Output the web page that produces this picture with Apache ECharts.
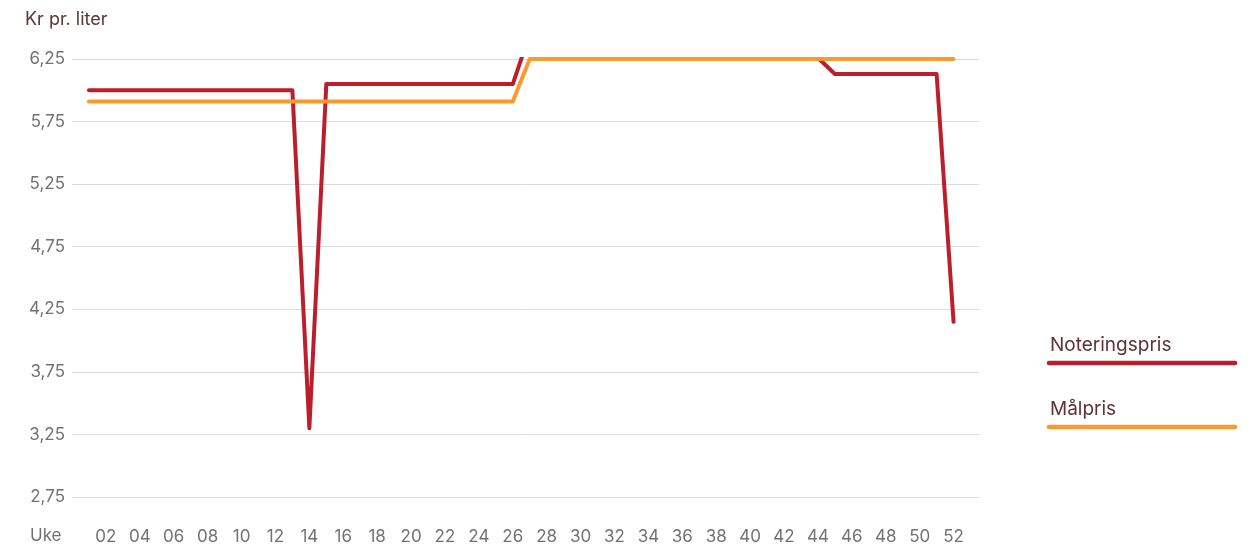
<!DOCTYPE html>
<html>
<head>
<meta charset="utf-8">
<script src="https://cdn.jsdelivr.net/npm/echarts@6/dist/echarts.min.js"></script>
<style>
  html, body { margin: 0; padding: 0; background: #fff; }
  #container { width: 1252px; height: 547px; }
</style>
</head>
<body>
<div id="container"></div>
<script>
// uker og priser (kr pr. liter)
var weeks = ['01','02','03','04','05','06','07','08','09','10','11','12','13',
             '14','15','16','17','18','19','20','21','22','23','24','25','26',
             '27','28','29','30','31','32','33','34','35','36','37','38','39',
             '40','41','42','43','44','45','46','47','48','49','50','51','52'];

var noteringspris = [6.00,6.00,6.00,6.00,6.00,6.00,6.00,6.00,6.00,6.00,6.00,6.00,6.00,
                     3.30,6.05,6.05,6.05,6.05,6.05,6.05,6.05,6.05,6.05,6.05,6.05,6.05,
                     6.45,6.25,6.25,6.25,6.25,6.25,6.25,6.25,6.25,6.25,6.25,6.25,6.25,
                     6.25,6.25,6.25,6.25,6.26,6.13,6.13,6.13,6.13,6.13,6.13,6.13,4.15];

var malpris = [5.91,5.91,5.91,5.91,5.91,5.91,5.91,5.91,5.91,5.91,5.91,5.91,5.91,
               5.91,5.91,5.91,5.91,5.91,5.91,5.91,5.91,5.91,5.91,5.91,5.91,5.91,
               6.25,6.25,6.25,6.25,6.25,6.25,6.25,6.25,6.25,6.25,6.25,6.25,6.25,
               6.25,6.25,6.25,6.25,6.25,6.25,6.25,6.25,6.25,6.25,6.25,6.25,6.25];

var weekTicks = ['02','04','06','08','10','12','14','16','18','20','22','24','26',
                 '28','30','32','34','36','38','40','42','44','46','48','50','52'];

var seriesNames = ['Noteringspris', 'Målpris'];
var seriesColors = ['#bb1f2c', '#f79a30'];

function toPoints(values) {
    return values.map(function (v, i) { return [parseInt(weeks[i], 10), v]; });
}

var dom = document.getElementById("container");
var myChart = echarts.init(dom);
var font = 'Inter, "Noto Sans", sans-serif';

var option = {
    animation: false,
    textStyle: { fontFamily: font },
    title: {
        text: 'Kr pr. liter',
        left: 20,
        top: 6,
        textStyle: { fontFamily: font, fontSize: 18, fontWeight: 'normal', color: '#5c3436' }
    },
    grid: { left: 72, right: 273, top: 59, bottom: 50 },
    xAxis: {
        type: 'value',
        min: 0,
        max: 53.5,
        axisLine: { show: false },
        axisTick: { show: false },
        splitLine: { show: false },
        axisLabel: {
            customValues: weekTicks.map(function (t) { return parseInt(t, 10); }),
            formatter: function (v) { return (v < 10 ? '0' : '') + v; },
            margin: 31,
            fontSize: 17,
            color: '#727272',
            fontFamily: font
        }
    },
    yAxis: {
        type: 'value',
        min: 2.75,
        max: 6.25,
        interval: 0.5,
        axisLine: { show: false },
        axisTick: { show: false },
        splitLine: { lineStyle: { color: '#dcdcdc', width: 1 } },
        axisLabel: {
            formatter: function (v) { return v.toFixed(2).replace('.', ','); },
            margin: 7,
            fontSize: 17,
            color: '#727272',
            fontFamily: font
        }
    },
    graphic: [
        { type: 'text', left: 30, top: 527,
          style: { text: 'Uke', fontSize: 17, fill: '#727272', fontFamily: font } },
        { type: 'text', left: 1050, top: 336,
          style: { text: seriesNames[0], fontSize: 19, fill: '#5c3436', fontFamily: font } },
        { type: 'line', shape: { x1: 1049, y1: 363, x2: 1235, y2: 363 },
          style: { stroke: seriesColors[0], lineWidth: 4.5, lineCap: 'round' } },
        { type: 'text', left: 1050, top: 400,
          style: { text: seriesNames[1], fontSize: 19, fill: '#5c3436', fontFamily: font } },
        { type: 'line', shape: { x1: 1049, y1: 427, x2: 1235, y2: 427 },
          style: { stroke: seriesColors[1], lineWidth: 4.5, lineCap: 'round' } }
    ],
    series: [
        {
            name: seriesNames[0],
            type: 'line',
            data: toPoints(noteringspris),
            showSymbol: false,
            clip: true,
            lineStyle: { color: seriesColors[0], width: 4, cap: 'round', join: 'round' },
            itemStyle: { color: seriesColors[0] }
        },
        {
            name: seriesNames[1],
            type: 'line',
            data: toPoints(malpris),
            showSymbol: false,
            clip: false,
            lineStyle: { color: seriesColors[1], width: 4, cap: 'round', join: 'round' },
            itemStyle: { color: seriesColors[1] }
        }
    ]
};

if (option && typeof option === 'object') {
    myChart.setOption(option);
}
</script>
</body>
</html>
